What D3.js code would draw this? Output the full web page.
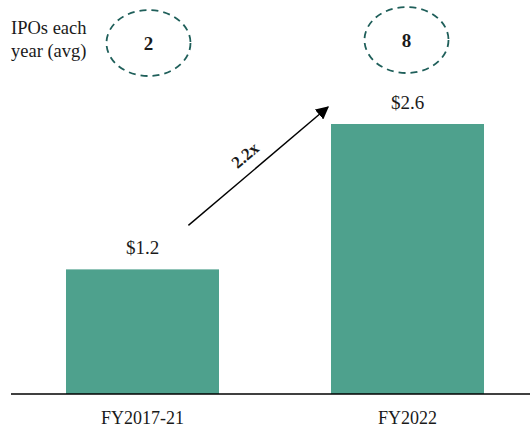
<!DOCTYPE html>
<html>
<head>
<meta charset="utf-8">
<script src="https://cdn.jsdelivr.net/npm/d3@7"></script>
<style>
  body { margin: 0; background: #fff; }
  text { font-family: "Liberation Serif", "Times New Roman", serif; fill: #1a1a1a; }
</style>
</head>
<body>
<script>
// chart data
const categories = ["FY2017-21", "FY2022"];
const values = [1.2, 2.6];
const valueLabels = ["$1.2", "$2.6"];
const iposPerYear = [2, 8];
const growthLabel = "2.2x";

const width = 530, height = 428;
const barColor = "#4ea18d", ringColor = "#1f5f5a";

var svg = d3.select("body").append("svg")
    .attr("width", width)
    .attr("height", height);

var x = d3.scaleBand()
    .domain(categories)
    .range([10, 540])
    .paddingInner(0.4226)
    .paddingOuter(0.2113);

var y = d3.scaleLinear()
    .domain([0, 2.6])
    .range([394, 124]);

// bars
svg.selectAll(".bar")
    .data(categories)
    .enter().append("rect")
    .attr("class", "bar")
    .attr("x", d => x(d))
    .attr("y", (d, i) => y(values[i]))
    .attr("width", x.bandwidth())
    .attr("height", (d, i) => y(0) - y(values[i]))
    .attr("fill", barColor);

// value labels above bars
svg.selectAll(".val")
    .data(categories)
    .enter().append("text")
    .attr("class", "val")
    .attr("x", d => x(d) + x.bandwidth() / 2)
    .attr("y", (d, i) => y(values[i]) - 15)
    .attr("text-anchor", "middle")
    .style("font-size", "19px")
    .text((d, i) => valueLabels[i]);

// x axis: baseline + category labels
var xAxis = svg.append("g")
    .attr("transform", "translate(0," + y(0) + ")")
    .call(d3.axisBottom(x).tickSize(0).tickPadding(17));
xAxis.select(".domain").attr("stroke", "#000").attr("stroke-width", 1.3)
    .attr("d", "M11,0H530");
xAxis.selectAll(".tick text")
    .style("font-family", "'Liberation Serif', serif")
    .style("font-size", "18px")
    .attr("fill", "#1a1a1a");

// IPO count bubbles
svg.append("text")
    .attr("x", 11)
    .attr("y", 34)
    .style("font-size", "18.5px")
    .text("IPOs each");
svg.append("text")
    .attr("x", 11)
    .attr("y", 57)
    .style("font-size", "18.5px")
    .text("year (avg)");

var cyRing = [43, 40];
var rings = svg.selectAll(".ring")
    .data(categories)
    .enter().append("g")
    .attr("class", "ring")
    .attr("transform", (d, i) => "translate(" + (x(d) + x.bandwidth() / 2 + 6 - i * 7) + "," + cyRing[i] + ")");
rings.append("ellipse")
    .attr("rx", 42)
    .attr("ry", 33)
    .attr("fill", "none")
    .attr("stroke", ringColor)
    .attr("stroke-width", 1.8)
    .attr("stroke-dasharray", "7,5");
rings.append("text")
    .attr("text-anchor", "middle")
    .attr("dy", "0.35em")
    .style("font-size", "19px")
    .style("font-weight", "bold")
    .text((d, i) => iposPerYear[i]);

// growth arrow
svg.append("defs").append("marker")
    .attr("id", "head")
    .attr("viewBox", "0 0 10 10")
    .attr("refX", 9)
    .attr("refY", 5)
    .attr("markerWidth", 13)
    .attr("markerHeight", 13)
    .attr("markerUnits", "userSpaceOnUse")
    .attr("orient", "auto")
    .append("path")
    .attr("d", "M0,0L10,5L0,10z")
    .attr("fill", "#000");

var x0 = x(categories[0]) + x.bandwidth() * 0.8, y0 = y(values[0]) - 44;
var x1 = x(categories[1]) - 3, y1 = y(values[1]) - 17;
svg.append("line")
    .attr("x1", x0).attr("y1", y0)
    .attr("x2", x1).attr("y2", y1)
    .attr("stroke", "#000")
    .attr("stroke-width", 1.4)
    .attr("marker-end", "url(#head)");

var ang = Math.atan2(y1 - y0, x1 - x0) * 180 / Math.PI;
svg.append("text")
    .attr("transform", "translate(" + 245 + "," + 155 + ") rotate(" + ang + ")")
    .attr("text-anchor", "middle")
    .attr("dy", "0.35em")
    .style("font-size", "17px")
    .style("font-weight", "bold")
    .text(growthLabel);
</script>
</body>
</html>
